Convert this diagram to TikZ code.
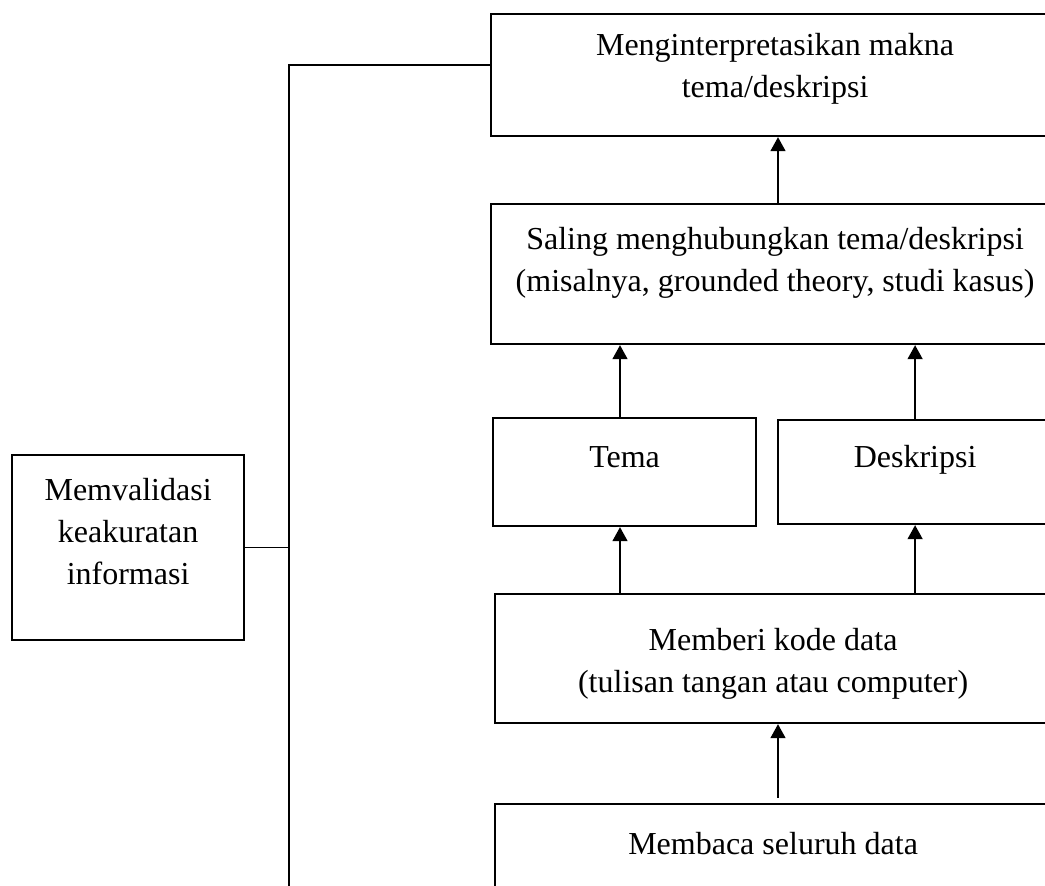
\documentclass[tikz,border=0pt]{standalone}
\usepackage{fontspec}
\setmainfont{Liberation Serif}
\usetikzlibrary{arrows.meta}
\newcommand\bxt[4]{\parbox[c][#2][t]{#1}{\centering\rule{0pt}{#3}#4\par}}
\tikzset{
  bx/.style={draw, line width=1.1pt, anchor=north west, inner sep=0pt,
    font=\fontsize{16pt}{21pt}\selectfont},
  conn/.style={line width=0.8pt},
  arr/.style={line width=0.8pt, -{Triangle[width=7.5pt,length=7pt]}}
}
\begin{document}
\begin{tikzpicture}[x=0.5pt,y=-0.5pt]
\useasboundingbox (0,0) rectangle (1045,886);
\clip (0,0) rectangle (1045,886);
\node[bx] (top) at (490,13) {\bxt{284pt}{61pt}{20.5pt}{Menginterpretasikan makna\\tema/deskripsi}};
\node[bx] (rel) at (490,203) {\bxt{284pt}{70pt}{22.5pt}{Saling menghubungkan tema/deskripsi\\(misalnya, grounded theory, studi kasus)}};
\node[bx] (tema) at (492,417) {\bxt{131.5pt}{54pt}{24.5pt}{Tema}};
\node[bx] (desk) at (777,419) {\bxt{137pt}{52pt}{23.5pt}{Deskripsi}};
\node[bx] (kode) at (494,593) {\bxt{278pt}{64.5pt}{28pt}{Memberi kode data\\(tulisan tangan atau computer)}};
\node[bx] (baca) at (494,803) {\bxt{278pt}{75pt}{25pt}{Membaca seluruh data}};
\node[bx] (valid) at (11,454) {\bxt{116pt}{92.5pt}{22.5pt}{Memvalidasi\\keakuratan\\informasi}};
\coordinate (j1) at (289,65);
\coordinate (j2) at (289,900);
\coordinate (mx) at (778,0);
\coordinate (lx) at (620,0);
\draw[conn] (j1 -| top.west) -- (j1) -- (j2);
\draw[conn] (valid.east) -- (valid.east -| j1);
\draw[arr] (rel.north -| mx) -- (top.south -| mx);
\draw[arr] (tema.north -| lx) -- (rel.south -| lx);
\draw[arr] (desk.north) -- (desk.north |- rel.south);
\draw[arr] (kode.north -| lx) -- (tema.south -| lx);
\draw[arr] (desk.south |- kode.north) -- (desk.south);
\draw[arr, shorten <=2.5pt] (baca.north -| mx) -- (kode.south -| mx);
\end{tikzpicture}
\end{document}
